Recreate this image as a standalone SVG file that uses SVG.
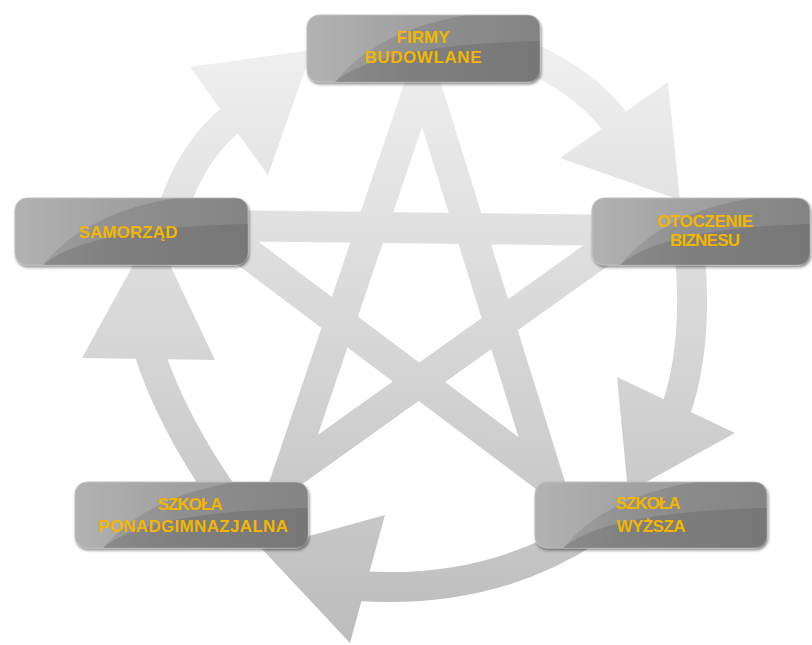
<svg xmlns="http://www.w3.org/2000/svg" width="812" height="645" viewBox="0 0 812 645">
<defs>
<linearGradient id="lg" gradientUnits="userSpaceOnUse" x1="0" y1="40" x2="0" y2="645">
<stop offset="0" stop-color="#f0f0f0"/>
<stop offset="1" stop-color="#bcbcbc"/>
</linearGradient>
<linearGradient id="boxg" x1="0" y1="0" x2="1" y2="0">
<stop offset="0" stop-color="#a4a4a4"/>
<stop offset="0.45" stop-color="#8f8f8f"/>
<stop offset="1" stop-color="#848484"/>
</linearGradient>
<filter id="sh" x="-10%" y="-20%" width="120%" height="150%">
<feDropShadow dx="1" dy="2" stdDeviation="1.5" flood-color="#000" flood-opacity="0.45"/>
</filter>
</defs>
<style>
.ring{fill:none;stroke:url(#lg);stroke-width:30;stroke-linecap:butt}
.head{fill:url(#lg)}
.star{fill:none;stroke:url(#lg);stroke-width:31;stroke-linejoin:miter;stroke-miterlimit:10}
.box{fill:url(#boxg);stroke:#b8b8b8;stroke-width:0.8;filter:url(#sh)}
.lt{fill:#ffffff;opacity:0.16}
.dk{fill:#555555;opacity:0.28}
.lbl{font-family:"Liberation Sans",Arial,sans-serif;font-weight:bold;font-size:17px;fill:#f2b600;text-anchor:middle}
</style>
<rect width="812" height="645" fill="#ffffff"/>
<g id="connectors">
<g id="star" transform="rotate(0.7 420 298)">
<path class="star" d="M420,77 L290,477 L630,228 L210,228 L550,477 Z"/>
</g>
<g id="arrow-samorzad-firmy">
<path class="ring" d="M172,212 Q192,150 234,117"/>
<polygon class="head" points="190,67 312,50 268,175"/>
</g>
<g id="arrow-firmy-otoczenie">
<path class="ring" d="M530,58 Q585,82 617,124"/>
<polygon class="head" points="668,82 680,200 560,158"/>
</g>
<g id="arrow-otoczenie-wyzsza">
<path class="ring" d="M690,255 Q698,345 676,410"/>
<polygon class="head" points="617,377 735,433 628,492"/>
</g>
<g id="arrow-wyzsza-ponad">
<path class="ring" d="M590,530 Q490,595 358,586"/>
<polygon class="head" points="385,515 350,643 262,549"/>
</g>
<g id="arrow-ponad-samorzad">
<path class="ring" d="M230,505 Q170,420 148,348"/>
<polygon class="head" points="82,358 153,229 215,360"/>
</g>
</g>
<g id="n-firmy" transform="translate(307,15)">
<rect class="box" width="233" height="67" rx="12"/>
<path class="lt" d="M12,0 H160 Q70,15 28,67 H12 Q0,67 0,55 V12 Q0,0 12,0 Z"/>
<path class="dk" d="M28,67 Q70,30 233,26 V55 Q233,67 221,67 Z"/>
<text class="lbl" x="116" y="28" textLength="53">FIRMY</text>
<text class="lbl" x="116" y="48" textLength="117">BUDOWLANE</text>
</g>
<g id="n-otoczenie" transform="translate(592,198)">
<rect class="box" width="218" height="67" rx="12"/>
<path class="lt" d="M12,0 H160 Q70,15 28,67 H12 Q0,67 0,55 V12 Q0,0 12,0 Z"/>
<path class="dk" d="M28,67 Q70,30 218,26 V55 Q218,67 206,67 Z"/>
<text class="lbl" x="113" y="29" textLength="96">OTOCZENIE</text>
<text class="lbl" x="113" y="48" textLength="70">BIZNESU</text>
</g>
<g id="n-samorzad" transform="translate(15,198)">
<rect class="box" width="233" height="67" rx="12"/>
<path class="lt" d="M12,0 H160 Q70,15 28,67 H12 Q0,67 0,55 V12 Q0,0 12,0 Z"/>
<path class="dk" d="M28,67 Q70,30 233,26 V55 Q233,67 221,67 Z"/>
<text class="lbl" x="113" y="40" textLength="99">SAMORZĄD</text>
</g>
<g id="n-ponad" transform="translate(75,482)">
<rect class="box" width="233" height="66" rx="12"/>
<path class="lt" d="M12,0 H160 Q70,15 28,66 H12 Q0,66 0,54 V12 Q0,0 12,0 Z"/>
<path class="dk" d="M28,66 Q70,30 233,26 V54 Q233,66 221,66 Z"/>
<text class="lbl" x="115" y="28" textLength="65">SZKOŁA</text>
<text class="lbl" x="118" y="50" textLength="190">PONADGIMNAZJALNA</text>
</g>
<g id="n-wyzsza" transform="translate(535,482)">
<rect class="box" width="232" height="66" rx="12"/>
<path class="lt" d="M12,0 H160 Q70,15 28,66 H12 Q0,66 0,54 V12 Q0,0 12,0 Z"/>
<path class="dk" d="M28,66 Q70,30 232,26 V54 Q232,66 220,66 Z"/>
<text class="lbl" x="113" y="27" textLength="65">SZKOŁA</text>
<text class="lbl" x="116" y="50" textLength="69">WYŻSZA</text>
</g>
</svg>
